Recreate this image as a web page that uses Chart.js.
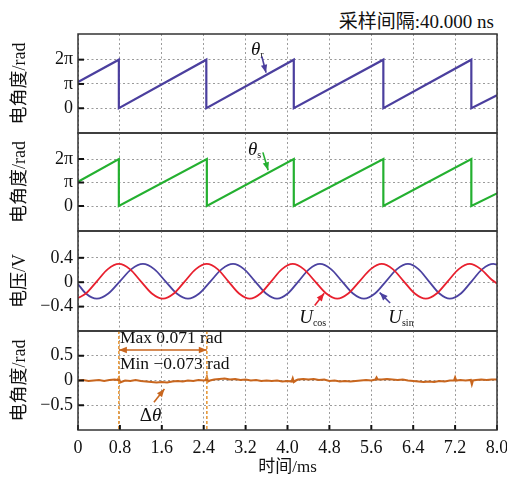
<!DOCTYPE html>
<html>
<head>
<meta charset="utf-8">
<script src="https://cdn.jsdelivr.net/npm/chart.js@4.4.1/dist/chart.umd.min.js"></script>
<style>
  html, body { margin: 0; padding: 0; background: #fff; }
  #wrap { position: relative; width: 507px; height: 484px; overflow: hidden; }
  .panel { position: absolute; left: 0; width: 507px; }
  #rate { position: absolute; right: 13px; top: 6px; font: 19px 'Liberation Serif', 'Noto Sans CJK SC', serif; color: #111; }
</style>
</head>
<body>
<div id="wrap">
  <div id="rate">采样间隔:40.000 ns</div>
  <div class="panel" style="top:30px;height:107px"><canvas id="p1"></canvas></div>
  <div class="panel" style="top:129px;height:106px"><canvas id="p2"></canvas></div>
  <div class="panel" style="top:227px;height:108px"><canvas id="p3"></canvas></div>
  <div class="panel" style="top:327px;height:157px"><canvas id="p4"></canvas></div>
</div>
<script>
// ticks
const xTicks = [0, 0.8, 1.6, 2.4, 3.2, 4.0, 4.8, 5.6, 6.4, 7.2, 8.0];
const xTickLabels = ['0', '0.8', '1.6', '2.4', '3.2', '4.0', '4.8', '5.6', '6.4', '7.2', '8.0'];
const angleTicks = [0, Math.PI, 2 * Math.PI];
const angleTickLabels = ['0', 'π', '2π'];
const voltTicks = [-0.4, 0, 0.4];
const voltTickLabels = ['−0.4', '0', '0.4'];
const errTicks = [-0.5, 0, 0.5];
const errTickLabels = ['−0.5', '0', '0.5'];

// theta_r (rad) vs time (ms)
const thetaRT = [0, 0.78, 0.78, 2.45, 2.45, 4.12, 4.12, 5.83, 5.83, 7.51, 7.51, 8.0];
const thetaRV = [3.40, 6.28, 0, 6.28, 0, 6.28, 0, 6.28, 0, 6.28, 0, 1.68];
// estimated theta
const thetaST = [0, 0.78, 0.78, 2.46, 2.46, 4.12, 4.12, 5.83, 5.83, 7.51, 7.51, 8.0];
const thetaSV = [3.23, 6.28, 0, 6.28, 0, 6.28, 0, 6.28, 0, 6.28, 0, 1.69];

// U_cos (V)
const uCosT = [0, 0.15, 0.36, 0.57, 0.78, 0.99, 1.20, 1.41, 1.62, 1.83, 2.04, 2.25, 2.46, 2.665, 2.87, 3.075,
  3.28, 3.485, 3.69, 3.895, 4.10, 4.31, 4.525, 4.74, 4.95, 5.16, 5.375, 5.59, 5.80, 6.01, 6.22, 6.43,
  6.64, 6.85, 7.06, 7.27, 7.48, 7.69, 7.90, 8.0];
const uCosV = [-0.26, -0.185, 0.015, 0.215, 0.30, 0.215, 0.015, -0.185, -0.27, -0.185, 0.015, 0.215, 0.30, 0.215, 0.015, -0.185,
  -0.27, -0.185, 0.015, 0.215, 0.30, 0.215, 0.015, -0.185, -0.27, -0.185, 0.015, 0.215, 0.30, 0.215, 0.015, -0.185,
  -0.27, -0.185, 0.015, 0.215, 0.30, 0.215, 0.04, -0.02];
// U_sin (V)
const uSinT = [0, 0.15, 0.36, 0.58, 0.80, 1.02, 1.24, 1.455, 1.67, 1.885, 2.10, 2.315, 2.53, 2.745, 2.96, 3.17,
  3.38, 3.59, 3.80, 4.005, 4.21, 4.415, 4.62, 4.83, 5.04, 5.25, 5.46, 5.67, 5.88, 6.09, 6.30, 6.50,
  6.70, 6.90, 7.10, 7.31, 7.515, 7.72, 7.93, 8.0];
const uSinV = [-0.03, -0.185, -0.27, -0.185, 0.015, 0.215, 0.30, 0.215, 0.015, -0.185, -0.27, -0.185, 0.015, 0.215, 0.30, 0.215,
  0.015, -0.185, -0.27, -0.185, 0.015, 0.215, 0.30, 0.215, 0.015, -0.185, -0.27, -0.185, 0.015, 0.215, 0.30, 0.215,
  0.015, -0.185, -0.27, -0.185, 0.015, 0.215, 0.30, 0.29];

// angle error (rad)
const errT = [0, 0.1, 0.2, 0.3, 0.4, 0.5, 0.6, 0.7, 0.76, 0.78, 0.8, 0.85, 0.9, 1.0, 1.1, 1.2, 1.3, 1.4, 1.5, 1.6,
  1.7, 1.8, 1.9, 2.0, 2.1, 2.2, 2.3, 2.4, 2.44, 2.46, 2.48, 2.52, 2.6, 2.7, 2.8, 2.9, 3.0, 3.1, 3.2, 3.3,
  3.4, 3.5, 3.6, 3.7, 3.8, 3.9, 4.0, 4.08, 4.1, 4.12, 4.16, 4.2, 4.3, 4.4, 4.5, 4.6, 4.7, 4.8, 4.9, 5.0,
  5.1, 5.2, 5.3, 5.4, 5.5, 5.6, 5.68, 5.70, 5.72, 5.8, 5.9, 6.0, 6.1, 6.2, 6.3, 6.4, 6.5, 6.6, 6.7, 6.8,
  6.9, 7.0, 7.1, 7.18, 7.20, 7.22, 7.3, 7.4, 7.5, 7.52, 7.54, 7.6, 7.7, 7.8, 7.9, 8.0];
const errV = [0.00, 0.01, -0.01, 0.00, 0.01, -0.01, 0.01, 0.02, 0.01, 0.05, -0.04, -0.02, 0.00, -0.01, 0.01, -0.01, -0.02, -0.03, -0.04, -0.03,
  -0.04, -0.02, -0.01, -0.02, 0.00, -0.01, 0.01, 0.00, 0.01, 0.071, -0.02, 0.00, 0.02, 0.03, 0.04, 0.02, 0.03, 0.01, 0.02, 0.00,
  0.01, -0.01, 0.00, -0.01, 0.00, -0.02, -0.01, -0.02, 0.04, -0.03, 0.00, 0.02, 0.03, 0.02, 0.03, 0.01, 0.02, -0.01, 0.00, -0.02,
  -0.01, -0.02, -0.01, 0.00, 0.01, 0.00, 0.02, 0.06, 0.02, 0.02, 0.03, 0.02, 0.01, 0.02, 0.00, -0.01, -0.02, -0.03, -0.02, -0.03,
  -0.01, -0.02, 0.00, 0.00, 0.06, 0.00, 0.01, 0.00, 0.01, -0.073, 0.00, 0.01, 0.02, 0.01, 0.02, 0.02];

const FONT = "'Liberation Serif', 'Noto Sans CJK SC', serif";
const pts = (ts, vs) => ts.map((t, i) => ({ x: t, y: vs[i] }));

function arrowHead(ctx, x, y, a) {
  const L = 8, W = 3.2;
  ctx.beginPath();
  ctx.moveTo(x, y);
  ctx.lineTo(x - L * Math.cos(a) + W * Math.sin(a), y - L * Math.sin(a) - W * Math.cos(a));
  ctx.lineTo(x - L * Math.cos(a) - W * Math.sin(a), y - L * Math.sin(a) + W * Math.cos(a));
  ctx.closePath();
  ctx.fill();
}
function arrow(ctx, x1, y1, x2, y2, color, both) {
  ctx.save();
  ctx.strokeStyle = color; ctx.fillStyle = color; ctx.lineWidth = 1.6;
  ctx.beginPath(); ctx.moveTo(x1, y1); ctx.lineTo(x2, y2); ctx.stroke();
  const a = Math.atan2(y2 - y1, x2 - x1);
  arrowHead(ctx, x2, y2, a);
  if (both) arrowHead(ctx, x1, y1, a + Math.PI);
  ctx.restore();
}
function symbol(ctx, x, y, main, sub, size) {
  ctx.save();
  ctx.fillStyle = '#111';
  ctx.textBaseline = 'middle';
  ctx.textAlign = 'left';
  ctx.font = 'italic ' + size + 'px ' + FONT;
  ctx.fillText(main, x, y);
  const w = ctx.measureText(main).width;
  ctx.font = Math.round(size * 0.55) + 'px ' + FONT;
  ctx.fillText(sub, x + w, y + size * 0.3);
  ctx.restore();
}

// frame, inner tick marks and notes
function decor(yTickVals, xMarks, notes) {
  return {
    id: 'decor',
    afterDatasetsDraw(chart) {
      const ctx = chart.ctx, a = chart.chartArea;
      const xs = chart.scales.x, ys = chart.scales.y;
      const px = v => xs.getPixelForValue(v), py = v => ys.getPixelForValue(v);
      if (notes) notes(ctx, px, py);
      ctx.save();
      ctx.strokeStyle = '#111';
      ctx.lineWidth = 2;
      yTickVals.forEach(v => {
        ctx.beginPath(); ctx.moveTo(a.left, py(v)); ctx.lineTo(a.left + 6, py(v)); ctx.stroke();
      });
      if (xMarks) {
        xTicks.forEach(v => {
          ctx.beginPath(); ctx.moveTo(px(v), a.bottom); ctx.lineTo(px(v), a.bottom - 5); ctx.stroke();
        });
      }
      ctx.strokeStyle = '#333';
      ctx.lineWidth = 1.5;
      ctx.strokeRect(a.left, a.top, a.right - a.left, a.bottom - a.top);
      ctx.restore();
    }
  };
}

function makePanel(id, datasets, y, bottom, notes) {
  const xScale = {
    type: 'linear', min: 0, max: 8,
    afterBuildTicks: s => { s.ticks = xTicks.map(v => ({ value: v })); },
    grid: { color: '#9a9a9a', lineWidth: 1, drawTicks: false },
    border: { display: false, dash: [2, 2.5] },
    ticks: { display: bottom, padding: 7, color: '#111', font: { family: FONT, size: 18 },
      callback: (v, i) => xTickLabels[i] },
    afterFit: s => { s.height = bottom ? 54 : 0; s.paddingLeft = 0; s.paddingRight = 0; }
  };
  if (bottom) {
    xScale.title = { display: true, text: '时间/ms', color: '#111', font: { family: FONT, size: 17 },
      padding: { top: 0, bottom: 6 } };
  }
  new Chart(document.getElementById(id), {
    type: 'line',
    data: { datasets: datasets },
    options: {
      animation: false, responsive: true, maintainAspectRatio: false, events: [],
      layout: { padding: { left: 0, right: 10, top: 4, bottom: bottom ? 0 : 4 } },
      elements: { point: { radius: 0 } },
      plugins: { legend: { display: false }, tooltip: { enabled: false } },
      scales: {
        x: xScale,
        y: {
          type: 'linear', min: y.min, max: y.max,
          afterBuildTicks: s => { s.ticks = y.ticks.map(v => ({ value: v })); },
          afterFit: s => { s.width = 78; s.paddingTop = 0; s.paddingBottom = 0; },
          grid: { color: '#9a9a9a', lineWidth: 1, drawTicks: false },
          border: { display: false, dash: [2, 2.5] },
          ticks: { padding: 5, color: '#111', font: { family: FONT, size: 18 },
            callback: (v, i) => y.labels[i] },
          title: { display: true, text: y.title, color: '#111', font: { family: FONT, size: 18 },
            padding: { top: 9, bottom: 0 } }
        }
      }
    },
    plugins: [decor(y.ticks, bottom, notes)]
  });
}

makePanel('p1', [{ data: pts(thetaRT, thetaRV), borderColor: '#4b3f9e', borderWidth: 2.2, tension: 0 }],
  { min: -3.2, max: 9.6, ticks: angleTicks, labels: angleTickLabels, title: '电角度/rad' }, false,
  (ctx, px, py) => {
    symbol(ctx, px(3.38) - 4, py(7.53), 'θ', 'r', 19);
    arrow(ctx, px(3.51), py(6.7), px(3.59), py(4.6), '#4b3f9e');
  });

makePanel('p2', [{ data: pts(thetaST, thetaSV), borderColor: '#24b030', borderWidth: 2.2, tension: 0 }],
  { min: -3.34, max: 9.76, ticks: angleTicks, labels: angleTickLabels, title: '电角度/rad' }, false,
  (ctx, px, py) => {
    symbol(ctx, px(3.32) - 4, py(7.49), 'θ', 's', 19);
    arrow(ctx, px(3.53), py(7.17), px(3.63), py(4.77), '#24b030');
  });

makePanel('p3', [
  { data: pts(uCosT, uCosV), borderColor: '#e8202e', borderWidth: 1.8, cubicInterpolationMode: 'monotone' },
  { data: pts(uSinT, uSinV), borderColor: '#4b42a0', borderWidth: 1.8, cubicInterpolationMode: 'monotone' }
], { min: -0.8, max: 0.84, ticks: voltTicks, labels: voltTickLabels, title: '电压/V' }, false,
  (ctx, px, py) => {
    symbol(ctx, px(4.30) - 4, py(-0.586), 'U', 'cos', 19);
    arrow(ctx, px(4.52), py(-0.38), px(4.70), py(-0.18), '#e8202e');
    symbol(ctx, px(6.0) - 4, py(-0.586), 'U', 'sin', 19);
    arrow(ctx, px(5.96), py(-0.34), px(5.76), py(-0.17), '#4b42a0');
  });

makePanel('p4', [{ data: pts(errT, errV), borderColor: '#c8661e', borderWidth: 2.2, tension: 0 }],
  { min: -1, max: 1, ticks: errTicks, labels: errTickLabels, title: '电角度/rad' }, true,
  (ctx, px, py) => {
    ctx.save();
    ctx.strokeStyle = '#e89a3c'; ctx.lineWidth = 1.6; ctx.setLineDash([3, 2]);
    [0.78, 2.46].forEach(t => {
      ctx.beginPath(); ctx.moveTo(px(t), py(1)); ctx.lineTo(px(t), py(-1)); ctx.stroke();
    });
    ctx.restore();
    arrow(ctx, px(0.78), py(0.616), px(2.46), py(0.616), '#c8661e', true);
    ctx.save();
    ctx.fillStyle = '#111'; ctx.textBaseline = 'middle'; ctx.textAlign = 'left';
    ctx.font = '17.5px ' + FONT;
    ctx.fillText('Max 0.071 rad', px(0.80), py(0.86));
    ctx.fillText('Min −0.073 rad', px(0.80), py(0.33));
    ctx.font = '19px ' + FONT;
    ctx.fillText('Δ', px(1.18), py(-0.72));
    const w = ctx.measureText('Δ').width;
    ctx.font = 'italic 19px ' + FONT;
    ctx.fillText('θ', px(1.18) + w, py(-0.72));
    ctx.restore();
    arrow(ctx, px(1.45), py(-0.44), px(1.65), py(-0.17), '#c8661e');
  });
</script>
</body>
</html>
